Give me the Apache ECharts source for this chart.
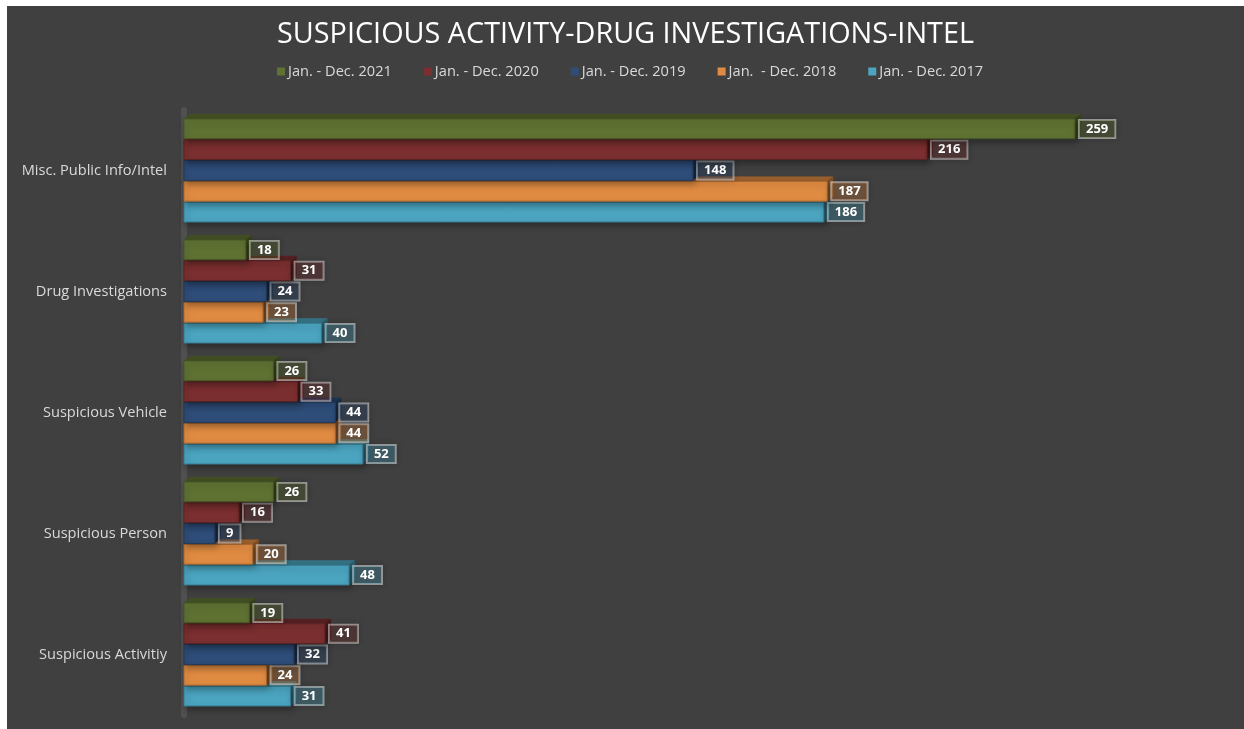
<!DOCTYPE html>
<html>
<head>
<meta charset="utf-8">
<script src="https://cdn.jsdelivr.net/npm/echarts@6/dist/echarts.min.js"></script>
<style>
  html, body { margin: 0; padding: 0; background: #ffffff; }
  #chart { position: absolute; left: 7px; top: 6px; width: 1237px; height: 723px; }
</style>
</head>
<body>
<div id="chart"></div>
<script>
// categories, top to bottom
var categories = ['Misc. Public Info/Intel', 'Drug Investigations', 'Suspicious Vehicle', 'Suspicious Person', 'Suspicious Activitiy'];
var seriesNames = ['Jan. - Dec. 2021', 'Jan. - Dec. 2020', 'Jan. - Dec. 2019', 'Jan.  - Dec. 2018', 'Jan. - Dec. 2017'];
var colors = ['#5f7232', '#7b2f30', '#2e4d78', '#e08b42', '#4ba4c0'];

var y2021 = [259, 18, 26, 26, 19];
var y2020 = [216, 31, 33, 16, 41];
var y2019 = [148, 24, 44, 9, 32];
var y2018 = [187, 23, 44, 20, 24];
var y2017 = [186, 40, 52, 48, 31];
var values = [y2021, y2020, y2019, y2018, y2017];

function shade(hex, f) {
    var n = parseInt(hex.slice(1), 16);
    var r = Math.round(((n >> 16) & 255) * f);
    var g = Math.round(((n >> 8) & 255) * f);
    var b = Math.round((n & 255) * f);
    return 'rgb(' + r + ',' + g + ',' + b + ')';
}
function tint(hex, a) {
    var n = parseInt(hex.slice(1), 16);
    return 'rgba(' + ((n >> 16) & 255) + ',' + ((n >> 8) & 255) + ',' + (n & 255) + ',' + a + ')';
}

// 3d-ish bar drawn through the axis scales
function makeRender(idx) {
    var color = colors[idx];
    return function (params, api) {
        var val = api.value(0);
        var cat = api.value(1);
        var band = api.size([0, 1])[1];
        var h = band * 0.86 / 5;
        var base = api.coord([0, cat]);
        var end = api.coord([val, cat]);
        var y = base[1] - band * 0.43 + idx * h + 0.5;
        var bh = h - 1;
        var x0 = base[0], x1 = end[0];
        var dx = 6, dy = 5;
        return {
            type: 'group',
            children: [
                {
                    type: 'polygon',
                    shape: { points: [[x0, y], [x1, y], [x1 + dx, y - dy], [x0 + dx, y - dy]] },
                    style: { fill: shade(color, 0.7) }
                },
                {
                    type: 'polygon',
                    shape: { points: [[x1, y], [x1 + dx, y - dy], [x1 + dx, y + bh - dy], [x1, y + bh]] },
                    style: { fill: shade(color, 0.6) }
                },
                {
                    type: 'rect',
                    shape: { x: x0, y: y, width: x1 - x0, height: bh },
                    style: {
                        fill: color, stroke: shade(color, 0.75), lineWidth: 1,
                        shadowBlur: 6, shadowColor: 'rgba(0,0,0,0.35)', shadowOffsetX: 2, shadowOffsetY: 3
                    }
                },
                {
                    type: 'text',
                    x: x1 + 4,
                    y: y + bh / 2,
                    style: {
                        text: String(val),
                        fill: '#ffffff',
                        font: 'bold 13px "Open Sans", sans-serif',
                        verticalAlign: 'middle',
                        align: 'left',
                        backgroundColor: tint(color, 0.3),
                        borderColor: 'rgba(255,255,255,0.5)',
                        borderWidth: 1,
                        padding: [3, 7, 2, 7],
                        shadowBlur: 6,
                        shadowColor: 'rgba(0,0,0,0.4)'
                    }
                }
            ]
        };
    };
}

var series = [];
for (var i = 0; i < values.length; i++) {
    series.push({
        name: seriesNames[i],
        type: 'custom',
        z: 10 - i,
        renderItem: makeRender(i),
        encode: { x: 0, y: 1 },
        data: values[i].map(function (v, k) { return [v, k]; })
    });
}

var chart = echarts.init(document.getElementById('chart'));
chart.setOption({
    backgroundColor: '#404040',
    animation: false,
    color: colors,
    title: {
        text: 'SUSPICIOUS ACTIVITY-DRUG INVESTIGATIONS-INTEL',
        left: 'center',
        top: 9,
        textStyle: { color: '#ffffff', fontSize: 28.8, fontWeight: 'normal', fontFamily: 'Open Sans' }
    },
    legend: {
        data: seriesNames,
        left: 265,
        top: 53,
        itemWidth: 8,
        itemHeight: 8,
        itemGap: 32,
        icon: 'rect',
        textStyle: { color: '#d9d9d9', fontSize: 14.6, fontFamily: 'Open Sans', padding: [0, 0, 0, -2] }
    },
    grid: { left: 177, right: 28, top: 104, bottom: 14 },
    xAxis: {
        type: 'value',
        min: 0,
        max: 300,
        show: false
    },
    yAxis: {
        type: 'category',
        inverse: true,
        data: categories,
        offset: 3,
        axisLine: { show: true, lineStyle: { color: '#505050', width: 6 } },
        axisTick: { show: false },
        splitLine: { show: false },
        axisLabel: { color: '#d9d9d9', fontSize: 14.6, fontFamily: 'Open Sans', margin: 14 }
    },
    series: series
});
</script>
</body>
</html>
